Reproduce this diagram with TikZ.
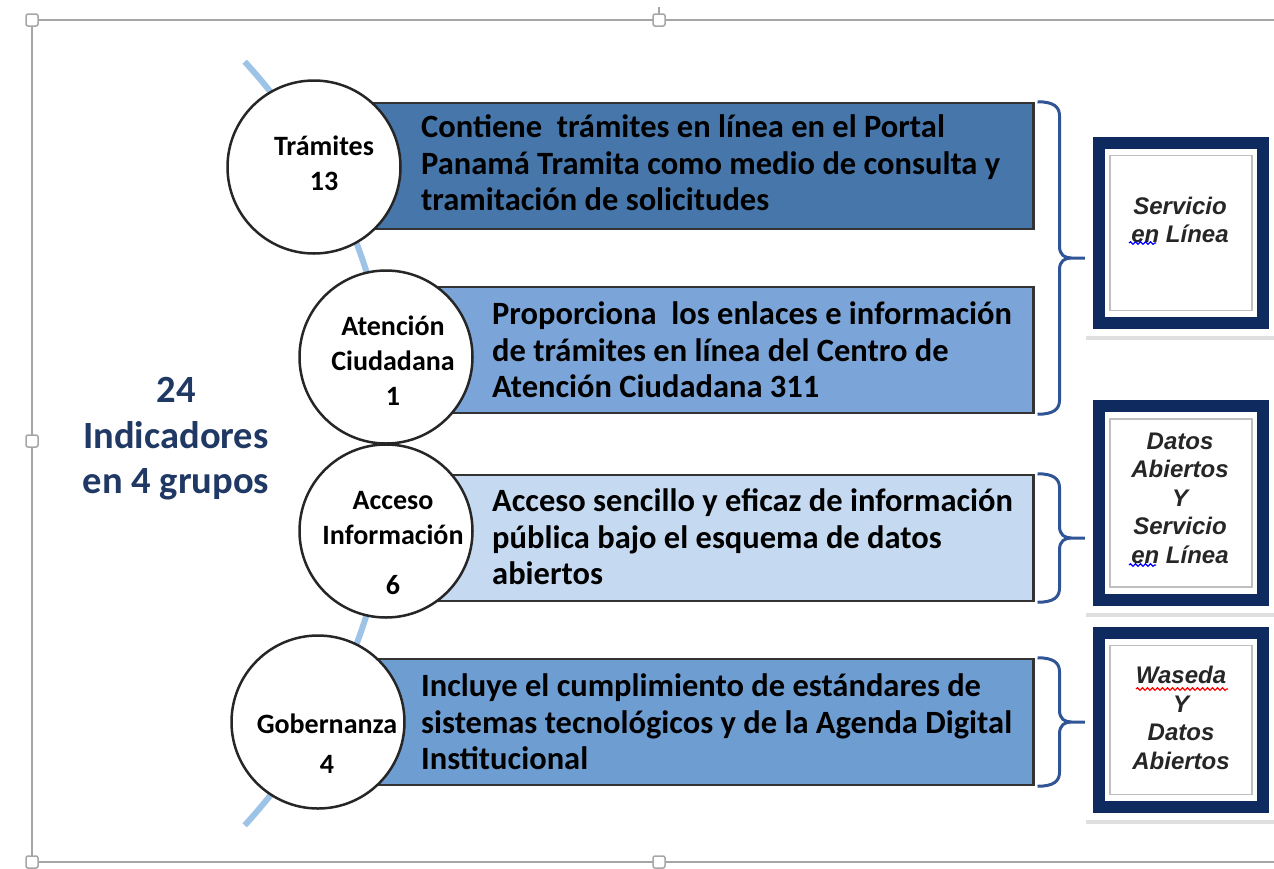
\documentclass[tikz,border=0pt]{standalone}
\usepackage{fontspec}
\setmainfont{Carlito}
\newfontfamily\tagfont{Liberation Sans}
\usepackage{tikz}
\usetikzlibrary{positioning,calc,decorations.pathmorphing,shadows}
\definecolor{navy}{HTML}{0E2A5E}
\definecolor{inkblue}{HTML}{1F3864}
\definecolor{bracecol}{HTML}{2F5597}
\definecolor{arcblue}{HTML}{9DC3E6}
\definecolor{fillA}{HTML}{4676AA}
\definecolor{fillB}{HTML}{7BA5D8}
\definecolor{fillC}{HTML}{C5D9F1}
\definecolor{fillD}{HTML}{6E9DD2}
\definecolor{selgray}{HTML}{A6A6A6}
\pgfdeclareradialshading{disc}{\pgfpoint{0bp}{0bp}}{color(0bp)=(white); color(38bp)=(white); color(46bp)=(black!12); color(50bp)=(black!32)}
\pgfdeclareradialshading{pane}{\pgfpoint{0bp}{0bp}}{color(0bp)=(white); color(40bp)=(white); color(47bp)=(black!10); color(50bp)=(black!30)}
% curly bracket from a top point to a bottom point, tip to the right
\newcommand{\tagbrace}[2]{%
  \draw[brc] let \p1=(#1), \p2=(#2), \n1={0.5*(\y1+\y2)} in
    (\x1,\y1) .. controls +(16pt,0pt) and +(0pt,9pt) .. (\x1+22pt,\y1-14pt)
    -- (\x1+22pt,\n1+12pt) .. controls +(0pt,-9pt) and +(-7pt,0pt) .. (\x1+34pt,\n1)
    -- (\x1+50pt,\n1)
    (\x1+34pt,\n1) .. controls +(-7pt,0pt) and +(0pt,9pt) .. (\x1+22pt,\n1-12pt)
    -- (\x1+22pt,\y2+14pt) .. controls +(0pt,-9pt) and +(16pt,0pt) .. (\x1,\y2);}

\begin{document}
\begin{tikzpicture}[x=1pt,y=-1pt,
  grp/.style={circle,draw=black!85,line width=2.5pt,shade,shading=disc,minimum size=173pt,inner sep=0pt},
  grptext/.style={align=center,inner sep=0pt,font=\fontsize{28}{35}\selectfont\bfseries},
  bar/.style={draw=black!80,line width=2.5pt,minimum height=126pt,inner sep=0pt,anchor=west},
  bartext/.style={anchor=west,align=left,inner sep=0pt,font=\fontsize{32.5}{36.5}\selectfont\bfseries},
  panel/.style={fill=white,minimum width=192pt,inner sep=0pt,drop shadow={opacity=0.25,shadow xshift=1pt,shadow yshift=-4pt}},
  tagframe/.style={draw=navy,line width=12pt,fill=white,minimum width=164pt,inner sep=0pt},
  tagcore/.style={draw=black!25,line width=1.5pt,shade,shading=pane,minimum width=142pt,inner sep=0pt},
  tagtext/.style={align=center,inner sep=0pt,font=\fontsize{24}{28.5}\selectfont\tagfont\bfseries\itshape,text=black!85},
  grip/.style={draw=selgray,line width=1.5pt,fill=white,rounded corners=2pt,minimum size=12pt,inner sep=0pt},
  brc/.style={draw=bracecol,line width=3pt},
  squiggle/.style={decorate,decoration={snake,segment length=5pt,amplitude=1.3pt},line width=1.2pt}
]
\useasboundingbox (0,0) rectangle (1274,868);

% selection frame
\draw[selgray,line width=2pt] (1274,20) -- (32,20) -- (32,862) -- (1274,862);
\draw[selgray,line width=2pt] (659,7) -- (659,14);
\foreach \p [count=\i] in {(32,20),(659,20),(32,441),(32,862),(659,862)}
  \node[grip] (h\i) at \p {};

% curved guide line
\draw[arcblue,line width=6pt] (-172,443.5) ++(-42.5:565.2) arc[start angle=-42.5,end angle=42.5,radius=565.2];

% bars
\node[bar,fill=fillA,minimum width=718pt] (b1) at (314,166) {};
\node[bar,fill=fillB,minimum width=646pt] (b2) at (386,350) {};
\node[bar,fill=fillC,minimum width=646pt] (b3) at (386,538) {};
\node[bar,fill=fillD,minimum width=716pt] (b4) at (316,722) {};

\node[bartext] (d1) at (421,163) {Contiene~ trámites en línea en el Portal\\Panamá Tramita como medio de consulta y\\tramitación de solicitudes};
\node[bartext] (d2) at (492,350) {Proporciona~ los enlaces e información\\de trámites en línea del Centro de\\Atención Ciudadana 311};
\node[bartext] (d3) at (492,537) {Acceso sencillo y eficaz de información\\pública bajo el esquema de datos\\abiertos};
\node[bartext] (d4) at (421,722) {Incluye el cumplimiento de estándares de\\sistemas tecnológicos y de la Agenda Digital\\Institucional};

% circles
\node[grp] (g1) at (314,167) {};
\node[grp] (g2) at (386,357) {};
\node[grp] (g3) at (386,531) {};
\node[grp] (g4) at (318,722) {};
\node[grptext] (n1) at ($(g1)+(10,-4)$) {Trámites\\13};
\node[grptext] (n2) at ($(g2)+(7,4)$) {Atención\\Ciudadana\\1};
\node[grptext] (n3) at ($(g3)+(7,12)$) {Acceso\\Información\\[15pt]6};
\node[grptext] (n4) at ($(g4)+(9,22)$) {Gobernanza\\[5pt]4};

\node[font=\fontsize{38.5}{45.5}\selectfont\bfseries,text=inkblue,align=center] (total) at (176,439) {24\\Indicadores\\en 4 grupos};

% braces
\tagbrace{$(b1.north east)+(3,0)$}{$(b2.south east)+(3,0)$}
\tagbrace{$(b3.north east)+(3,0)$}{$(b3.south east)+(3,0)$}
\tagbrace{$(b4.north east)+(3,0)$}{$(b4.south east)+(3,0)$}

% tags
\node[panel,minimum height=206pt] (pa) at (1181,233) {};
\node[tagframe,minimum height=180pt] (ka) at (1181,233) {};
\node[tagcore,minimum height=155pt] (ia) at (ka) {};
\node[tagtext] (la) at ($(ka)+(-1,-13)$) {Servicio\\en Línea};

\node[panel,minimum height=220pt] (pb) at (1181,503) {};
\node[tagframe,minimum height=194pt] (kb) at (1181,503) {};
\node[tagcore,minimum height=168pt] (ib) at (kb) {};
\node[tagtext] (lb) at ($(kb)+(-1,-5)$) {Datos\\Abiertos\\Y\\Servicio\\en Línea};

\node[panel,minimum height=200pt] (pc) at (1181,720) {};
\node[tagframe,minimum height=174pt] (kc) at (1181,720) {};
\node[tagcore,minimum height=149pt] (ic) at (kc) {};
\node[tagtext] (lc) at ($(kc)+(0,-2)$) {Waseda\\Y\\Datos\\Abiertos};

% spell-check marks
\draw[squiggle,blue] (1129,243) -- (1156,243);
\draw[squiggle,blue] (1129,565) -- (1156,565);
\draw[squiggle,red] (1136,689) -- (1228,689);
\end{tikzpicture}
\end{document}
